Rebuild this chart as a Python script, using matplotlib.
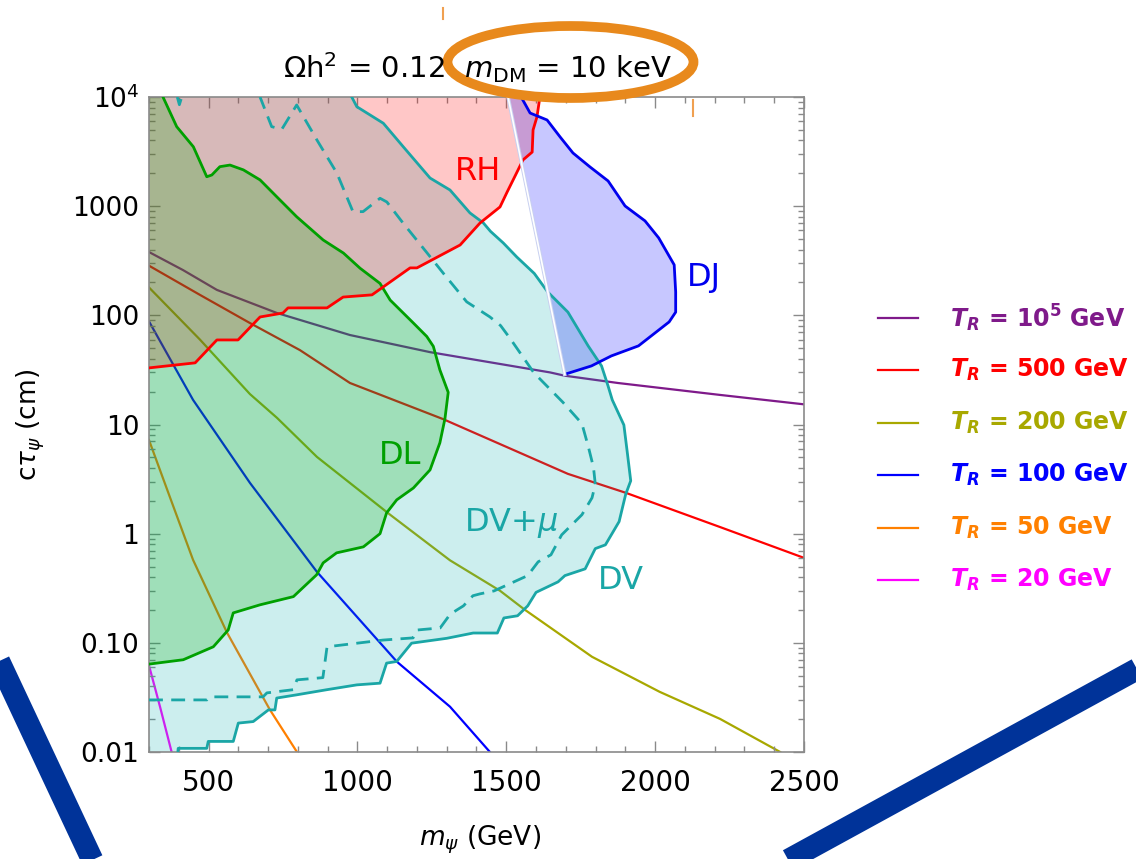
import numpy as np
import matplotlib
matplotlib.use('Agg')
import matplotlib.pyplot as plt
from matplotlib.lines import Line2D
from matplotlib.patches import Ellipse
from matplotlib.ticker import MultipleLocator, LogLocator, NullFormatter

# ---- T_R contours: m_psi (GeV) vs c tau_psi (cm)
m_tr1e5 = [300, 414, 528, 730, 975, 1244, 1647, 1696, 1875, 2215, 2500]
ct_tr1e5 = [380, 260, 171, 105, 66, 46, 30, 28, 24, 18.7, 15.3]

m_tr500 = [300, 471, 639, 807, 975, 1288, 1707, 1901, 2218, 2500]
ct_tr500 = [285, 154, 85, 48, 24, 11.2, 3.53, 2.37, 1.15, 0.6]

m_tr200 = [300, 471, 639, 730, 864, 1110, 1311, 1479, 1560, 1788, 2015, 2218, 2420]
ct_tr200 = [180, 60, 19, 11.5, 5.05, 1.49, 0.57, 0.3, 0.203, 0.0745, 0.0356, 0.0201, 0.01]

m_tr100 = [300, 448, 639, 864, 1133, 1311, 1445]
ct_tr100 = [88, 16.8, 2.92, 0.447, 0.067, 0.026, 0.01]

m_tr50 = [300, 370, 448, 562, 706, 797]
ct_tr50 = [7.2, 2.17, 0.575, 0.124, 0.0244, 0.01]

m_tr20 = [300, 337, 376]
ct_tr20 = [0.062, 0.026, 0.01]

# ---- excluded / sensitive regions (boundaries)
# DV (displaced vertex), from the bottom edge up to the top edge
dv_m = [397, 398, 494, 499, 583, 600, 650, 701, 723, 729, 796, 897, 998, 1076, 1098,
        1132, 1182, 1300, 1389, 1470, 1492, 1538, 1572, 1600, 1674, 1697, 1765, 1799,
        1833, 1879, 1901, 1918, 1907, 1895, 1856, 1842, 1820, 1775, 1707, 1639, 1594,
        1535, 1490, 1447, 1423, 1378, 1311, 1244, 1154, 1087, 998, 981]
dv_ct = [0.01, 0.0108, 0.0108, 0.0125, 0.0125, 0.0184, 0.019, 0.0243, 0.0243, 0.0312,
         0.0334, 0.0372, 0.0412, 0.0427, 0.0652, 0.0675, 0.0993, 0.11, 0.123, 0.123,
         0.169, 0.177, 0.218, 0.29, 0.362, 0.413, 0.476, 0.73, 0.79, 1.29, 2.29, 3.05,
         5.4, 9.9, 16.8, 22.5, 34.4, 52.5, 107, 164, 242, 343, 460, 588, 702, 867, 1406,
         1810, 3500, 5750, 8150, 1e4]

# DV + mu (dashed)
dvmu_m = [300, 495, 505, 683, 696, 784, 797, 884, 898, 1086, 1187, 1200, 1278, 1311,
          1334, 1356, 1388, 1412, 1459, 1572, 1607, 1650, 1686, 1754, 1788, 1799, 1793,
          1776, 1754, 1690, 1593, 1514, 1481, 1445, 1367, 1288, 1234, 1153, 1099, 1076,
          1019, 985, 931, 864, 796, 746, 712, 673]
dvmu_ct = [0.03, 0.03, 0.032, 0.032, 0.0348, 0.0372, 0.0458, 0.048, 0.092, 0.106, 0.111,
           0.131, 0.137, 0.182, 0.2, 0.218, 0.27, 0.281, 0.299, 0.413, 0.552, 0.64, 0.975,
           1.49, 2.13, 2.83, 4.04, 6.2, 10.2, 16, 29.7, 60.8, 80.5, 96.7, 133, 244, 373,
           702, 1092, 1181, 891, 891, 2010, 4040, 8450, 5060, 5350, 1e4]
dvmu2_m = [395, 402, 410]
dvmu2_ct = [1e4, 8500, 1e4]

# DL (displaced lepton), from the top edge down to the left edge
dl_m = [347, 393, 449, 494, 511, 538, 572, 617, 673, 729, 796, 885, 953, 1009, 1076,
        1110, 1188, 1233, 1255, 1277, 1305, 1294, 1277, 1244, 1188, 1132, 1098, 1076,
        1020, 930, 885, 863, 785, 673, 583, 566, 516, 415, 303]
dl_ct = [1e4, 5350, 3500, 1860, 1930, 2300, 2380, 2150, 1740, 1220, 800, 490, 372, 270,
         196, 138, 85, 64, 52, 31.6, 19.7, 11.3, 6.8, 3.84, 2.62, 2.04, 1.55, 1.0, 0.757,
         0.667, 0.54, 0.42, 0.265, 0.223, 0.188, 0.131, 0.092, 0.070, 0.064]

# RH (reheating), lower boundary from the left edge to the top edge
rh_m = [300, 455, 528, 599, 673, 750, 767, 898, 952, 1049, 1177, 1200, 1345, 1412, 1479,
        1503, 1530, 1556, 1587, 1590, 1603, 1613]
rh_ct = [33, 36.7, 59.5, 59.5, 96.6, 105, 117, 117, 147, 154, 272, 272, 441, 702, 984,
         1350, 1900, 2650, 3130, 4990, 6560, 1e4]

# DJ (displaced jets): straight left edge, then the blue boundary
dj_edge_m = [1506, 1696]
dj_edge_ct = [1e4, 28.8]
dj_m = [1696, 1786, 1853, 1944, 2047, 2069, 2069, 2064, 2012, 1966, 1899, 1842, 1781,
        1724, 1681, 1637, 1580, 1550]
dj_ct = [28.8, 34.4, 42.5, 52.5, 87, 107, 164, 290, 512, 733, 1004, 1702, 2290, 3070,
         4300, 6160, 7130, 1e4]

tr_labels = [r'$\mathbfit{T_R}$ = $\mathbf{10^5}$ GeV', r'$\mathbfit{T_R}$ = 500 GeV',
             r'$\mathbfit{T_R}$ = 200 GeV', r'$\mathbfit{T_R}$ = 100 GeV',
             r'$\mathbfit{T_R}$ = 50 GeV', r'$\mathbfit{T_R}$ = 20 GeV']
tr_colors = ['#7f1a8a', '#ff0000', '#a8a800', '#0000ff', '#ff8000', '#ff00ff']

W, H = 1136, 859


def fx(px):
	return px / W


def fy(py):
	return 1 - py / H


fig = plt.figure(figsize=(W / 100, H / 100), dpi=100)
ax = fig.add_axes([fx(149), fy(752), fx(804) - fx(149), fy(97) - fy(752)])
ax.set_yscale('log')

curves = [(m_tr1e5, ct_tr1e5), (m_tr500, ct_tr500), (m_tr200, ct_tr200),
          (m_tr100, ct_tr100), (m_tr50, ct_tr50), (m_tr20, ct_tr20)]
for (m, ct), c in zip(curves, tr_colors):
	ax.plot(m, ct, color=c, lw=1.6, zorder=1)

teal = '#1aa6a6'
green = '#00a000'
# shaded regions drawn over the T_R lines (as in the original)
ax.fill([300] + dv_m + [300], [0.01] + dv_ct + [1e4], color='#00aaaa', alpha=0.2, lw=0, zorder=2)
ax.fill(rh_m + [300], rh_ct + [1e4], color='#ff0000', alpha=0.22, lw=0, zorder=2)
ax.fill([300] + dl_m + [300], [1e4] + dl_ct + [0.064], color='#00aa00', alpha=0.22, lw=0, zorder=2)
ax.fill([dj_edge_m[0]] + dj_m, [dj_edge_ct[0]] + dj_ct, color='#0000ff', alpha=0.22, lw=0, zorder=2)

ax.plot(dv_m, dv_ct, color=teal, lw=2, zorder=3)
ax.plot(dvmu_m, dvmu_ct, color=teal, lw=2, dashes=(5, 3), zorder=3)
ax.plot(dvmu2_m, dvmu2_ct, color=teal, lw=2, dashes=(5, 3), zorder=3)
ax.plot(dl_m, dl_ct, color=green, lw=2, zorder=3)
ax.plot(rh_m, rh_ct, color='#ff0000', lw=2, zorder=3)
ax.plot(dj_m, dj_ct, color='#0000ee', lw=2, zorder=3)
ax.plot(dj_edge_m, dj_edge_ct, color='#c8d0f0', lw=2.6, zorder=3)
ax.plot(dj_edge_m, dj_edge_ct, color='white', lw=1.2, zorder=3)

ax.text(1405, 2060, 'RH', color='#ff0000', fontsize=23, ha='center', va='center', zorder=4)
ax.text(2164, 220, 'DJ', color='#0000ee', fontsize=23, ha='center', va='center', zorder=4)
ax.text(1143, 5.2, 'DL', color=green, fontsize=23, ha='center', va='center', zorder=4)
ax.text(1516, 1.26, r'DV+$\mu$', color=teal, fontsize=23, ha='center', va='center', zorder=4)
ax.text(1885, 0.37, 'DV', color=teal, fontsize=23, ha='center', va='center', zorder=4)

ax.set_xlim(300, 2500)
ax.set_ylim(0.01, 1e4)
ax.set_xticks([500, 1000, 1500, 2000, 2500])
ax.xaxis.set_minor_locator(MultipleLocator(100))
ax.set_yticks([0.01, 0.1, 1, 10, 100, 1000, 1e4])
ax.set_yticklabels(['0.01', '0.10', '1', '10', '100', '1000', r'$10^4$'])
ax.yaxis.set_minor_locator(LogLocator(base=10, subs=np.arange(2, 10) * 1.0, numticks=20))
ax.yaxis.set_minor_formatter(NullFormatter())
ax.tick_params(which='both', direction='in', top=True, right=True, color='#8a8a8a')
ax.tick_params(axis='x', labelsize=20, pad=12)
ax.tick_params(axis='y', labelsize=19, pad=7)
ax.tick_params(which='major', length=8, width=1)
ax.tick_params(which='minor', length=4, width=1)
for s in ax.spines.values():
	s.set_color('#8a8a8a')
	s.set_linewidth(1.2)

ax.set_xlabel(r'$m_\psi$ (GeV)', fontsize=19)
ax.xaxis.set_label_coords(0.505, -0.11)
ax.set_ylabel(r'c$\tau_\psi$ (cm)', fontsize=19)
ax.yaxis.set_label_coords(-0.155, 0.5)

fig.text(fx(478), fy(68), r'$\Omega$h$^2$ = 0.12  $m_{\rm DM}$ = 10 keV', fontsize=21,
         ha='center', va='center')

# legend (drawn by hand, outside the frame)
for i, (lab, c) in enumerate(zip(tr_labels, tr_colors)):
	y = fy(318 + i * 52.4)
	fig.add_artist(Line2D([fx(878), fx(918)], [y, y], color=c, lw=1.6))
	fig.text(fx(950), y, lab, color=c, fontsize=17, fontweight='bold', va='center', ha='left')

# annotation marks on top of the figure
fig.add_artist(Ellipse((fx(570.5), fy(62)), 246 / W, 72 / H, transform=fig.transFigure,
                       fill=False, ec='#e8891c', lw=7))
fig.add_artist(Line2D([fx(443), fx(443)], [fy(8), fy(19)], color='#f0a050', lw=1.5))
fig.add_artist(Line2D([fx(693), fx(693)], [fy(100), fy(116)], color='#f0a050', lw=1.5))
fig.add_artist(Line2D([fx(-10), fx(97)], [fy(642), fy(870)], color='#003399', lw=16,
                      solid_capstyle='butt'))
fig.add_artist(Line2D([fx(770), fx(1150)], [fy(870), fy(662)], color='#003399', lw=16,
                      solid_capstyle='butt'))

fig.savefig('out.png', dpi=100)
